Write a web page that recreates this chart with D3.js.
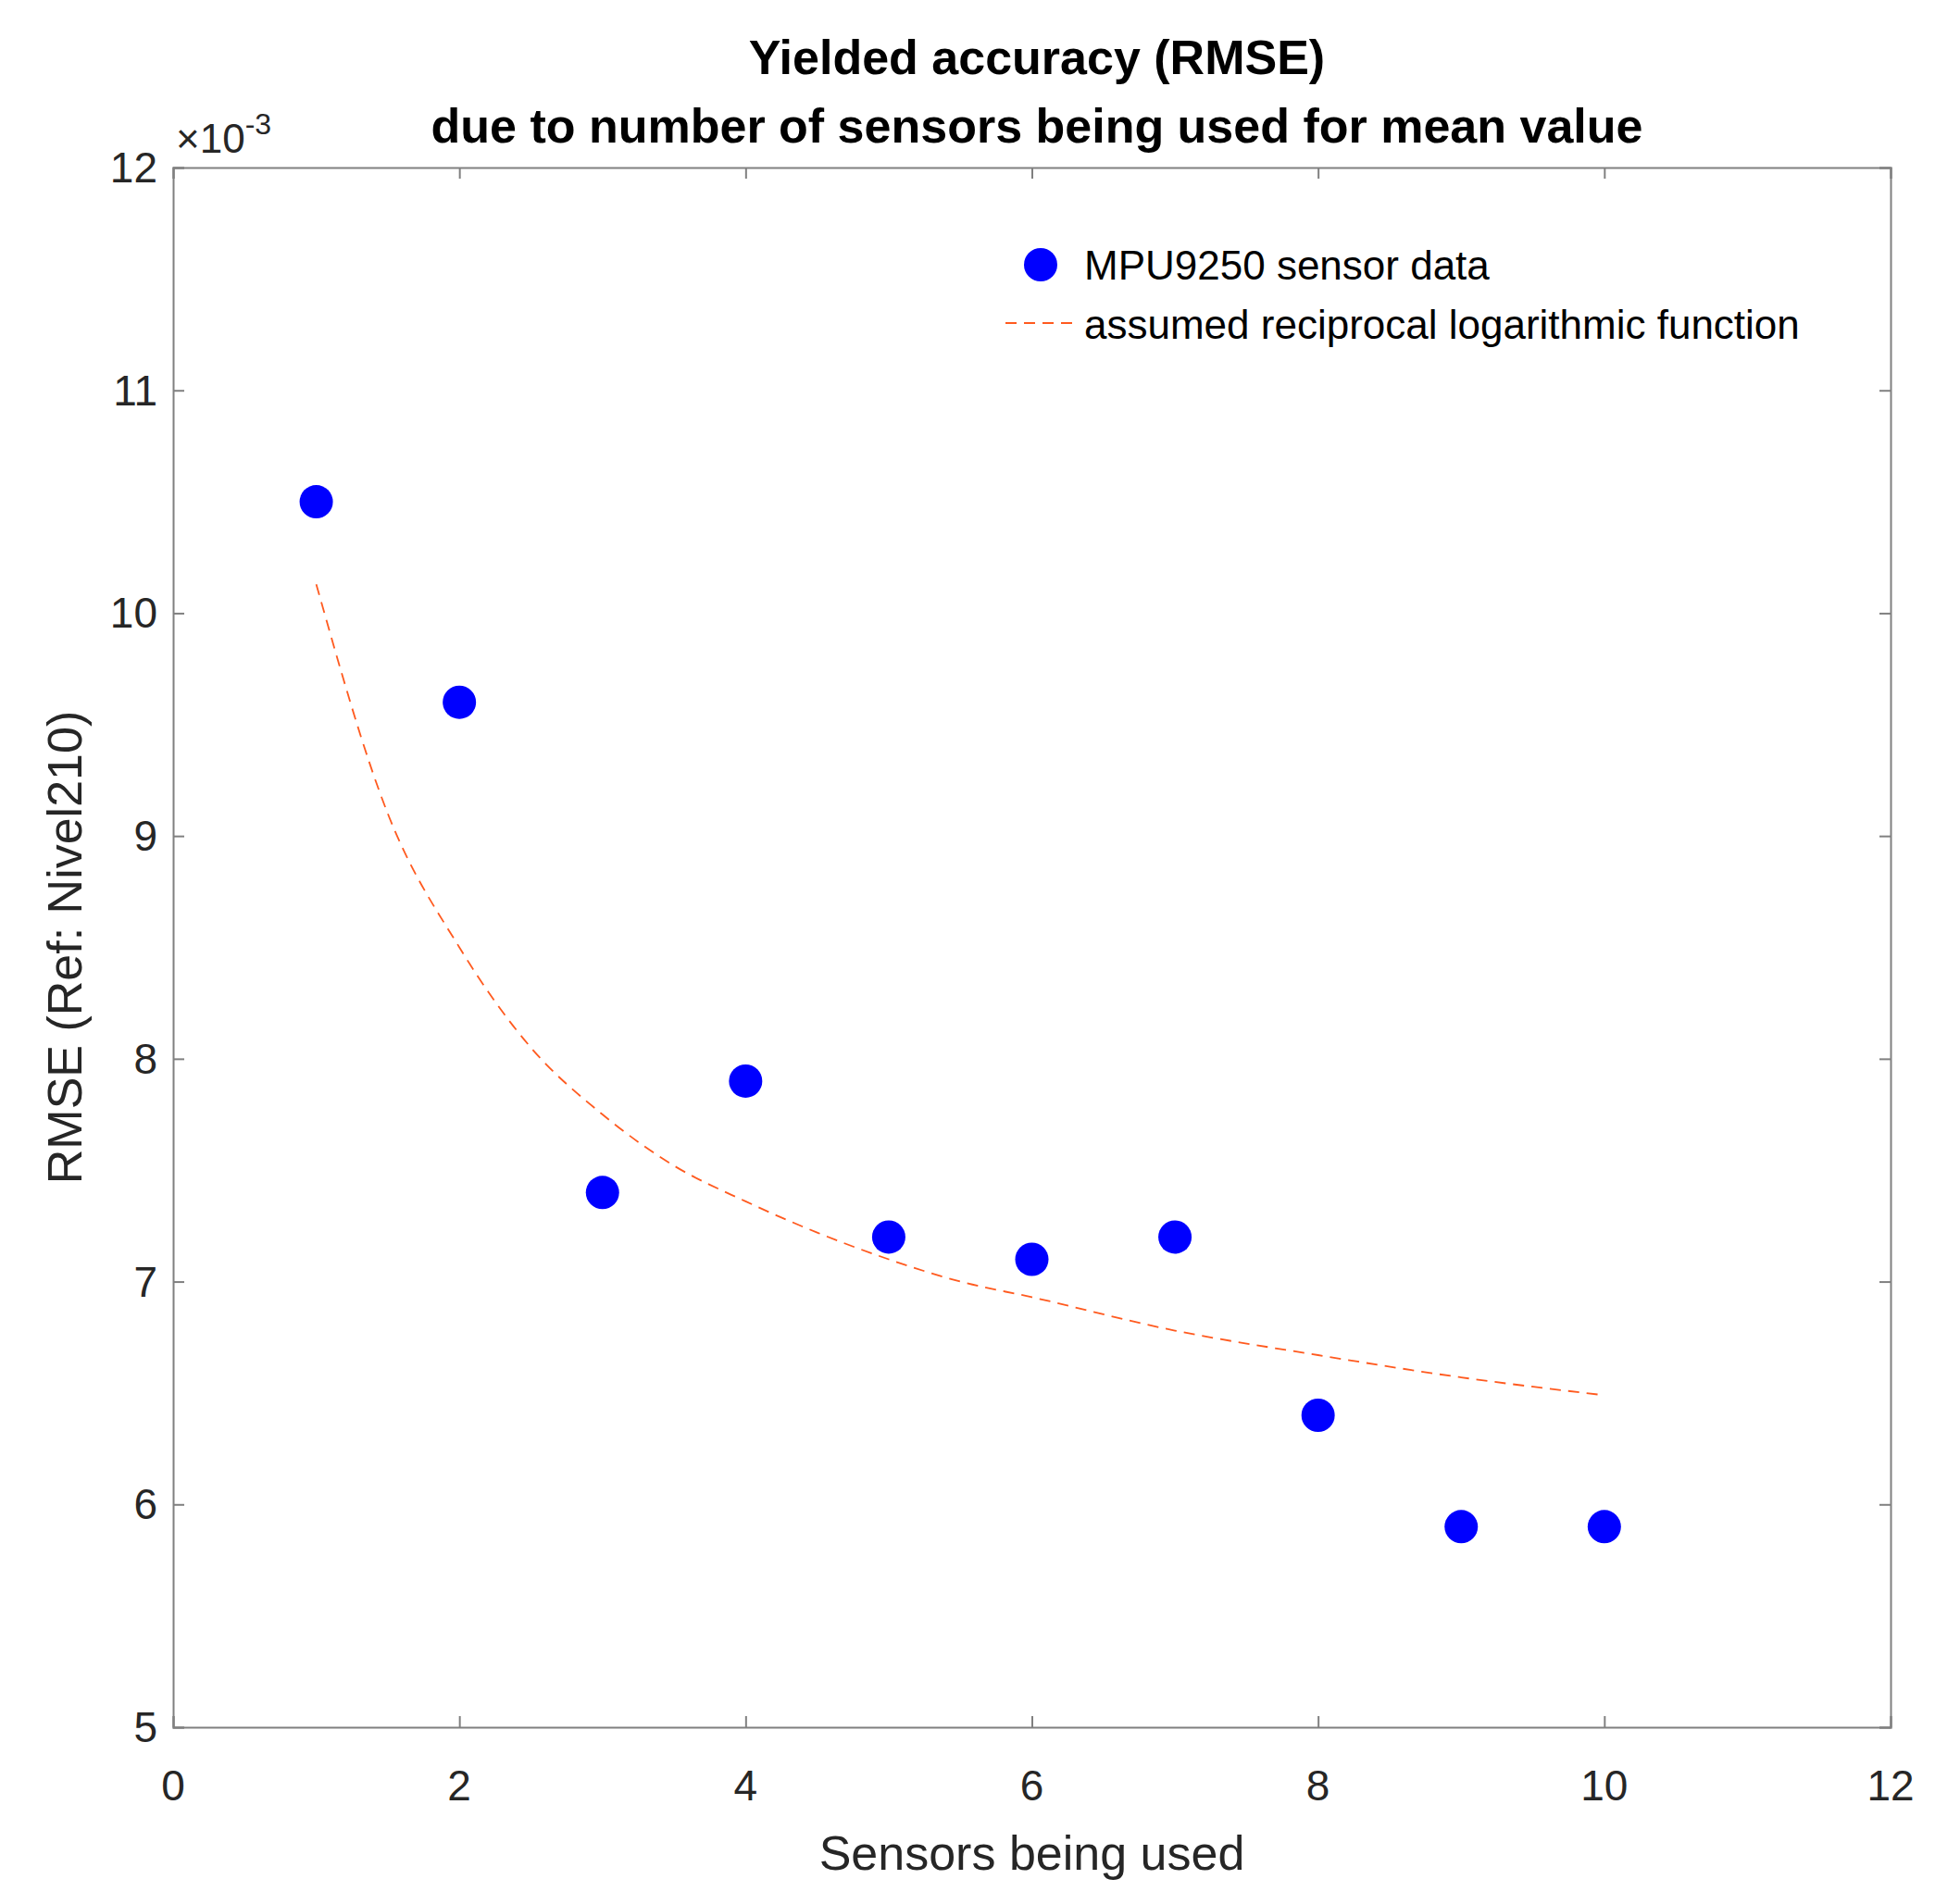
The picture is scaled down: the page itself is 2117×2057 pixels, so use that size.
<!DOCTYPE html>
<html>
<head>
<meta charset="utf-8">
<script src="https://d3js.org/d3.v7.min.js"></script>
<style>
  body { margin: 0; background: #fff; }
  text { font-family: "Liberation Sans", Arial, sans-serif; }
</style>
</head>
<body>
<svg id="chart" width="2117" height="2057"></svg>
<script>
// measured data (RMSE in 1e-3)
let sensors = [1, 2, 3, 4, 5, 6, 7, 8, 9, 10];
let rmse = [10.5, 9.6, 7.4, 7.9, 7.2, 7.1, 7.2, 6.4, 5.9, 5.9];

// fitted curve
let fitX = [1, 1.5, 2, 2.5, 3, 3.5, 4, 4.5, 5, 5.5, 6, 7, 8, 9, 10];
let fitY = [10.13, 9.1, 8.5, 8.05, 7.75, 7.52, 7.36, 7.22, 7.1, 7.0, 6.93, 6.78, 6.67, 6.57, 6.49];

let xTicks = [0, 2, 4, 6, 8, 10, 12];
let yTicks = [5, 6, 7, 8, 9, 10, 11, 12];

let svg = d3.select("#chart");
let plotL = 187, plotR = 2042, plotT = 181, plotB = 1866;
let axisColor = "#808080";

let x = d3.scaleLinear().domain([0, 12]).range([plotL, plotR]);
let y = d3.scaleLinear().domain([5, 12]).range([plotB, plotT]);

// tick marks inward on all four sides
function drawAxes() {
  svg.append("g").attr("transform", "translate(0," + plotB + ")")
    .call(d3.axisBottom(x).tickValues(xTicks).tickSize(-12).tickFormat(""));
  svg.append("g").attr("transform", "translate(0," + plotT + ")")
    .call(d3.axisTop(x).tickValues(xTicks).tickSize(-12).tickFormat(""));
  svg.append("g").attr("transform", "translate(" + plotL + ",0)")
    .call(d3.axisLeft(y).tickValues(yTicks).tickSize(-12).tickFormat(""));
  svg.append("g").attr("transform", "translate(" + plotR + ",0)")
    .call(d3.axisRight(y).tickValues(yTicks).tickSize(-12).tickFormat(""));
  svg.selectAll(".domain, .tick line").attr("stroke", axisColor).attr("stroke-width", 2);
}
drawAxes();

svg.selectAll(".xlab").data(xTicks).enter().append("text")
  .attr("x", d => x(d)).attr("y", 1945)
  .attr("text-anchor", "middle").attr("font-size", 46).attr("fill", "#262626")
  .text(d => d);
svg.selectAll(".ylab").data(yTicks).enter().append("text")
  .attr("x", 170).attr("y", d => y(d) + 16)
  .attr("text-anchor", "end").attr("font-size", 46).attr("fill", "#262626")
  .text(d => d);

// exponent label
let ex = svg.append("text").attr("x", 190).attr("y", 165).attr("font-size", 44).attr("fill", "#262626");
ex.append("tspan").text("×10");
ex.append("tspan").attr("dy", -20).attr("font-size", 32).text("-3");

// fitted curve
let line = d3.line().x((d, i) => x(fitX[i])).y(d => y(d)).curve(d3.curveMonotoneX);
svg.append("path").attr("d", line(fitY))
  .attr("fill", "none").attr("stroke", "#ff5a1f").attr("stroke-width", 1.8)
  .attr("stroke-dasharray", "12,8");

// points
svg.selectAll(".dot").data(rmse).enter().append("circle")
  .attr("cx", (d, i) => x(sensors[i])).attr("cy", d => y(d))
  .attr("r", 18).attr("fill", "#0000ff");

// titles
svg.append("text").attr("x", 1120).attr("y", 80).attr("text-anchor", "middle")
  .attr("font-size", 52).attr("font-weight", "bold").text("Yielded accuracy (RMSE)");
svg.append("text").attr("x", 1120).attr("y", 154).attr("text-anchor", "middle")
  .attr("font-size", 52).attr("font-weight", "bold").text("due to number of sensors being used for mean value");

svg.append("text").attr("x", x(6)).attr("y", 2020).attr("text-anchor", "middle")
  .attr("font-size", 52).attr("fill", "#262626").text("Sensors being used");
svg.append("text").attr("transform", "translate(88," + y(8.5) + ") rotate(-90)")
  .attr("text-anchor", "middle").attr("font-size", 52).attr("fill", "#262626")
  .text("RMSE (Ref: Nivel210)");

// legend
svg.append("circle").attr("cx", 1124).attr("cy", 286).attr("r", 18).attr("fill", "#0000ff");
svg.append("text").attr("x", 1171).attr("y", 302).attr("font-size", 44).text("MPU9250 sensor data");
svg.append("line").attr("x1", 1086).attr("x2", 1164).attr("y1", 349).attr("y2", 349)
  .attr("stroke", "#ff5a1f").attr("stroke-width", 1.8).attr("stroke-dasharray", "12,8");
svg.append("text").attr("x", 1171).attr("y", 366).attr("font-size", 44).text("assumed reciprocal logarithmic function");
</script>
</body>
</html>
